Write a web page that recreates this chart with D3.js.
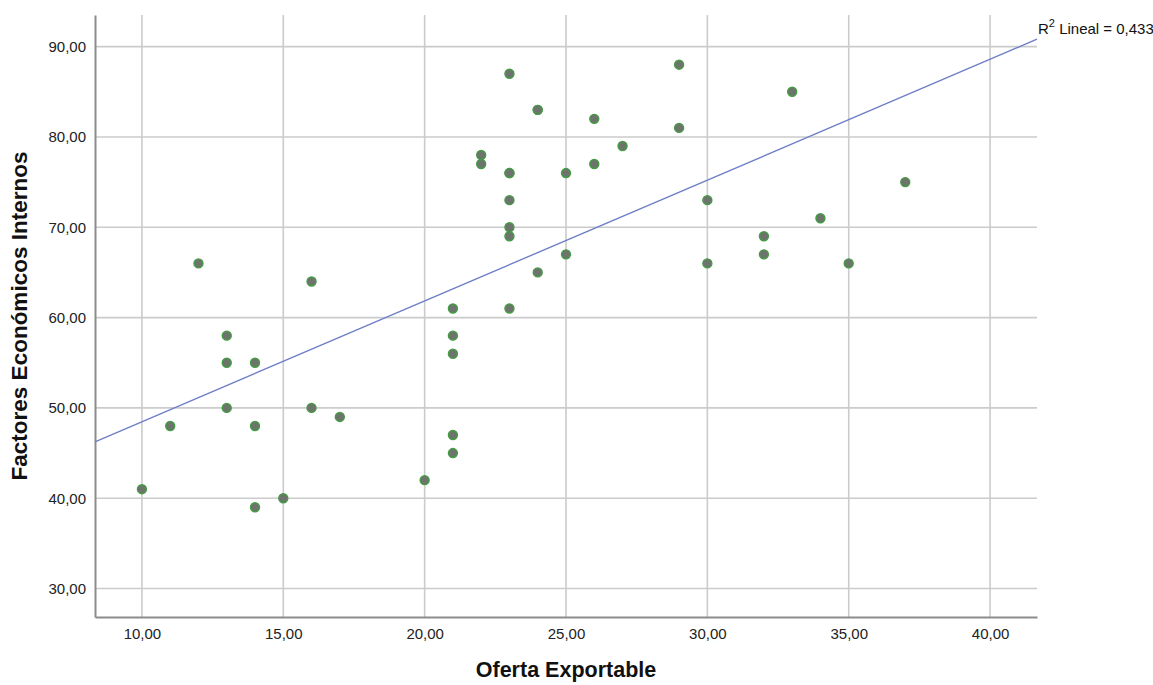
<!DOCTYPE html>
<html>
<head>
<meta charset="utf-8">
<script src="https://cdn.jsdelivr.net/npm/d3@7.9.0/dist/d3.min.js"></script>
<style>
  body { margin: 0; background: #fff; }
  svg { display: block; font-family: "Liberation Sans", Arial, sans-serif; }
</style>
</head>
<body>
<svg id="chart" width="1153" height="685"></svg>
<script>
// Oferta Exportable (x) vs Factores Económicos Internos (y)
// (24,83) and (23,76) appear twice (overlapping markers)
const ofertaExportable = [10, 11, 12, 13, 13, 13, 14, 14, 14, 15, 16, 16, 17, 20, 21, 21, 21, 21, 21,
  22, 22, 23, 23, 23, 23, 23, 23, 23, 24, 24, 24, 25, 25, 26, 26, 27, 29, 29, 30, 30, 32, 32, 33, 34, 35, 37];
const factoresEconomicos = [41, 48, 66, 58, 55, 50, 55, 48, 39, 40, 64, 50, 49, 42, 61, 58, 56, 47, 45,
  78, 77, 87, 76, 76, 73, 70, 69, 61, 83, 83, 65, 76, 67, 82, 77, 79, 88, 81, 73, 66, 69, 67, 85, 71, 66, 75];

const xTicks = [10, 15, 20, 25, 30, 35, 40];
const yTicks = [30, 40, 50, 60, 70, 80, 90];
const xDomain = [8.34, 41.66];
const yDomain = [26.85, 93.5];
const r2Label = "0,433";

const margin = { left: 95, right: 116, top: 15, bottom: 68 };
const width = 1153, height = 685;

const svg = d3.select('#chart');

const x = d3.scaleLinear().domain(xDomain).range([margin.left, width - margin.right]);
const y = d3.scaleLinear().domain(yDomain).range([height - margin.bottom, margin.top]);

const fmt = d => d3.format('.2f')(d).replace('.', ',');

// grid lines
svg.append('g')
  .selectAll('line')
  .data(xTicks)
  .join('line')
  .attr('x1', d => x(d)).attr('x2', d => x(d))
  .attr('y1', y.range()[0]).attr('y2', y.range()[1])
  .attr('stroke', '#cbcbcb').attr('stroke-width', 1.6);

svg.append('g')
  .selectAll('line')
  .data(yTicks)
  .join('line')
  .attr('x1', x.range()[0]).attr('x2', x.range()[1])
  .attr('y1', d => y(d)).attr('y2', d => y(d))
  .attr('stroke', '#cbcbcb').attr('stroke-width', 1.6);

// axes
const xAxis = svg.append('g')
  .attr('transform', `translate(0,${y.range()[0]})`)
  .call(d3.axisBottom(x).tickValues(xTicks).tickFormat(fmt).tickSize(0).tickPadding(11));
const yAxis = svg.append('g')
  .attr('transform', `translate(${x.range()[0]},0)`)
  .call(d3.axisLeft(y).tickValues(yTicks).tickFormat(fmt).tickSize(0).tickPadding(9));

[xAxis, yAxis].forEach(a => {
  a.select('.domain').attr('stroke', '#8c8c8c').attr('stroke-width', 2);
  a.selectAll('text').attr('font-size', 15).attr('fill', '#222')
    .attr('font-family', '"Liberation Sans", Arial, sans-serif');
});

// regression line (least squares from the data)
const mx = d3.mean(ofertaExportable), my = d3.mean(factoresEconomicos);
let sxy = 0, sxx = 0;
ofertaExportable.forEach((v, i) => {
  sxy += (v - mx) * (factoresEconomicos[i] - my);
  sxx += (v - mx) * (v - mx);
});
const slope = sxy / sxx;
const intercept = my - slope * mx;

svg.append('line')
  .attr('x1', x(xDomain[0])).attr('y1', y(intercept + slope * xDomain[0]))
  .attr('x2', x(xDomain[1])).attr('y2', y(intercept + slope * xDomain[1]))
  .attr('stroke', '#6e7fc8').attr('stroke-width', 1.4);

const r2 = svg.append('text')
  .attr('x', x(xDomain[1]) + 1)
  .attr('y', 34)
  .attr('font-size', 15)
  .attr('fill', '#111');
r2.append('tspan').text('R');
r2.append('tspan').attr('dy', -7).attr('font-size', 11).text('2');
r2.append('tspan').attr('dy', 7).text(' Lineal = ' + r2Label);

// points
svg.append('g')
  .selectAll('circle')
  .data(ofertaExportable.map((v, i) => [v, factoresEconomicos[i]]))
  .join('circle')
  .attr('cx', d => x(d[0]))
  .attr('cy', d => y(d[1]))
  .attr('r', 4.5)
  .attr('fill', '#6c746c')
  .attr('stroke', '#449c44')
  .attr('stroke-width', 1.4);

// axis titles
svg.append('text')
  .attr('x', (x.range()[0] + x.range()[1]) / 2)
  .attr('y', 677)
  .attr('text-anchor', 'middle')
  .attr('font-size', 21.5).attr('font-weight', 'bold').attr('fill', '#111')
  .text('Oferta Exportable');

svg.append('text')
  .attr('transform', `translate(27,${(y.range()[0] + y.range()[1]) / 2}) rotate(-90)`)
  .attr('text-anchor', 'middle')
  .attr('font-size', 22.5).attr('font-weight', 'bold').attr('fill', '#111')
  .text('Factores Económicos Internos');
</script>
</body>
</html>
